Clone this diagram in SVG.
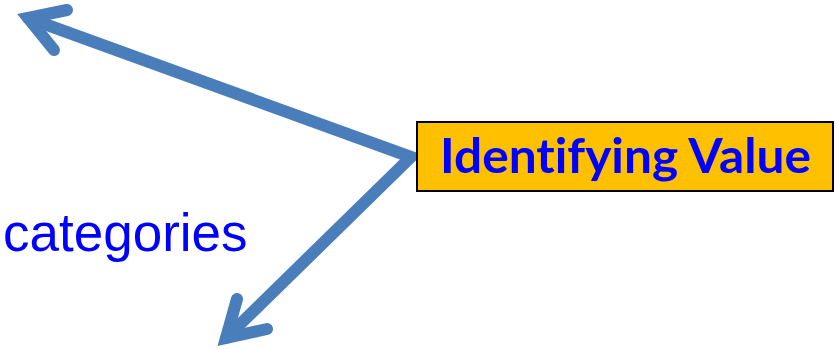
<svg xmlns="http://www.w3.org/2000/svg" width="837" height="349" viewBox="0 0 837 349">
<style>
.arr{fill:none;stroke:#4A7EBB;stroke-width:12;stroke-linecap:round;stroke-linejoin:miter;stroke-miterlimit:10}
.lbl{font-family:Lato,"Open Sans","Liberation Sans",sans-serif;font-weight:bold;font-size:47px;fill:#0000FF;font-variant-ligatures:none}
.cat{font-family:"Liberation Sans",Arial,sans-serif;font-size:53px;fill:#0000FF}
</style>
<rect width="837" height="349" fill="#FFFFFF"/>
<g id="connectors">
<polyline class="arr" points="28,18 411,157 226,338"/>
<polyline class="arr" points="67,10 28,18 54,50"/>
<polyline class="arr" points="237,299 226,338 267,329"/>
</g>
<g id="identifying-value">
<rect x="417" y="122" width="416" height="69" fill="#FFC000" stroke="#000000" stroke-width="2"/>
<text class="lbl" x="625.5" y="173" text-anchor="middle" textLength="371" lengthAdjust="spacingAndGlyphs">Identifying Value</text>
</g>
<g id="categories">
<text class="cat" x="3" y="251">categories</text>
</g>
</svg>
